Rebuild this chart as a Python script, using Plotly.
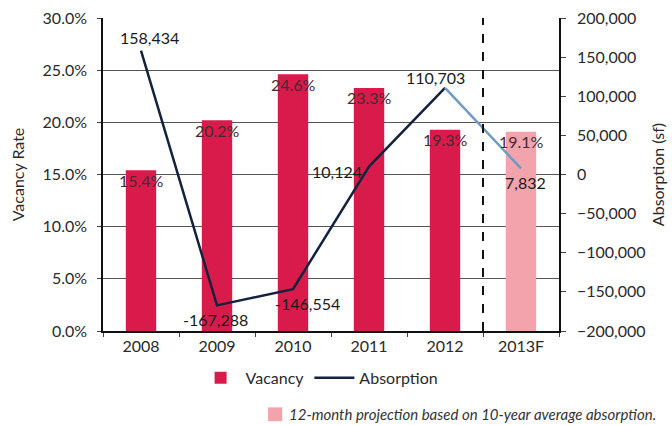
import plotly.graph_objects as go

# Market data
years = ["2008", "2009", "2010", "2011", "2012", "2013F"]
vacancy = [0.154, 0.202, 0.246, 0.233, 0.193, 0.191]
absorption = [158434, -167288, -146554, 10124, 110703, 7832]

bar_colors = ["#D81B4A"] * 5 + ["#F2A3AC"]
FONT = "Lato"
TXT = "#2a2a2a"
FS = 16

fig = go.Figure()

fig.add_trace(go.Bar(
    x=years, y=vacancy, name="Vacancy",
    marker=dict(color=bar_colors, line=dict(width=0)),
    width=0.4, yaxis="y", showlegend=True,
    legendrank=1,
))

# Actual absorption (2008-2012) and forecast segment (2012-2013F)
fig.add_trace(go.Scatter(
    x=years[:5], y=absorption[:5], name="Absorption", mode="lines",
    line=dict(color="#15223D", width=2.5), yaxis="y2", legendrank=2,
))
fig.add_trace(go.Scatter(
    x=years[4:], y=absorption[4:], mode="lines", showlegend=False,
    line=dict(color="#6F9BC3", width=2.5), yaxis="y2",
))

annotations = []
# Vacancy labels just inside the top of each bar (x given as category index)
for i, v in enumerate(vacancy):
    annotations.append(dict(
        x=i, y=v, xref="x", yref="y", text=f"{v*100:.1f}%",
        showarrow=False, yshift=-10, font=dict(family=FONT, size=FS, color="#4a2a30"),
    ))

# Absorption labels
abs_offsets = [(8, 13), (-2, -14), (14, -14), (-32, -5), (-10, 10), (4, -14)]
for i, (a, (dx, dy)) in enumerate(zip(absorption, abs_offsets)):
    annotations.append(dict(
        x=i, y=a, xref="x", yref="y2", text=f"{a:,}",
        showarrow=False, xshift=dx, yshift=dy,
        font=dict(family=FONT, size=FS, color="#1a1a1a"),
    ))

# Footnote
annotations.append(dict(
    x=0.81, y=-0.266, xref="paper", yref="paper", xanchor="center", yanchor="middle",
    text="12-month projection based on 10-year average absorption.",
    showarrow=False, font=dict(family=FONT, size=15, color="#333333", style="italic"),
))

shapes = [
    # forecast divider
    dict(type="line", xref="x", yref="paper", x0=4.5, x1=4.5, y0=0, y1=1,
         line=dict(color="#111111", width=2, dash="dash")),
    # footnote swatch
    dict(type="rect", xref="paper", yref="paper", x0=0.362, x1=0.393, y0=-0.288, y1=-0.244,
         fillcolor="#F2A3AC", line=dict(width=0)),
]

fig.update_layout(
    width=672, height=425,
    margin=dict(l=103, r=113, t=18, b=94),
    paper_bgcolor="white", plot_bgcolor="white",
    font=dict(family=FONT, size=FS, color=TXT),
    bargap=0.6,
    xaxis=dict(
        type="category", range=[-0.5, 5.5], autorange=False, automargin=False,
        showline=True, linecolor="#111111", linewidth=1.5,
        ticks="outside", tickson="boundaries", ticklen=4, tickcolor="#444444",
        tickfont=dict(family=FONT, size=FS, color=TXT), showgrid=False,
    ),
    yaxis=dict(
        range=[0, 0.30], dtick=0.05, tickformat=".1%", automargin=False,
        showline=True, linecolor="#111111", linewidth=1.5,
        ticks="outside", ticklen=4, tickcolor="#444444", ticklabelstandoff=7,
        gridcolor="#555555", gridwidth=1.2, zeroline=False,
        title=dict(text="Vacancy Rate", font=dict(family=FONT, size=FS, color=TXT), standoff=14),
        tickfont=dict(family=FONT, size=FS, color=TXT),
    ),
    yaxis2=dict(
        range=[-200000, 200000], dtick=50000, tickformat=",", automargin=False,
        overlaying="y", side="right",
        showline=True, linecolor="#111111", linewidth=1.5,
        ticks="outside", ticklen=5, tickcolor="#444444", ticklabelstandoff=8,
        showgrid=False, zeroline=False,
        title=dict(text="Absorption (sf)", font=dict(family=FONT, size=FS, color=TXT), standoff=8),
        tickfont=dict(family=FONT, size=FS, color=TXT),
    ),
    legend=dict(
        orientation="h", x=0.475, xanchor="center", y=-0.15, yanchor="middle",
        font=dict(family=FONT, size=FS, color=TXT), itemwidth=40,
        traceorder="normal",
    ),
    annotations=annotations,
    shapes=shapes,
)

fig.write_html("out.html")
